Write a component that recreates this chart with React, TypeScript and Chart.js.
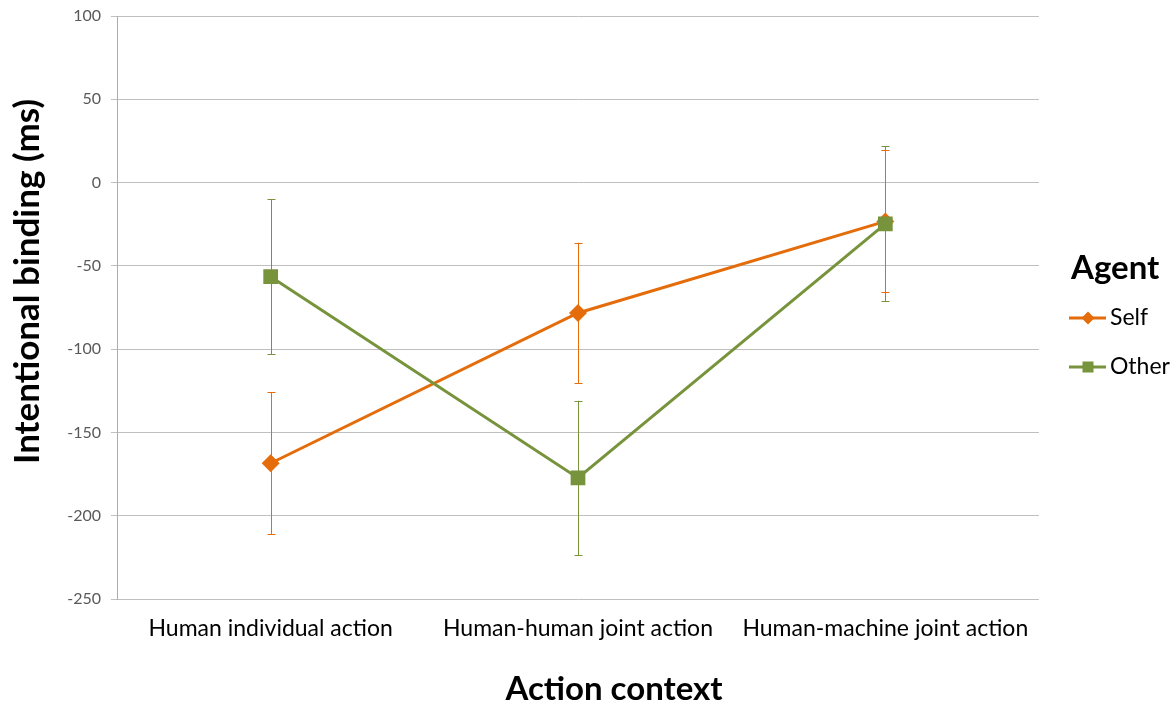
import { useEffect, useRef } from "react";
import { Chart, registerables } from "chart.js";

Chart.register(...registerables);

const categories = ["Human individual action", "Human-human joint action", "Human-machine joint action"];
const seriesNames = ["Self", "Other"];
const selfMeans = [-168.5, -78.3, -23.3];
const selfErrors = [42.5, 42.2, 42.6];
const otherMeans = [-56.5, -177.3, -24.8];
const otherErrors = [46.5, 46.3, 46.5];
const yMin = -250;
const yMax = 100;
const yStep = 50;

const xTitle = "Action context";
const yTitle = "Intentional binding (ms)";
const legendTitle = "Agent";

const ORANGE = "#E46C0A";
const GREEN = "#77933C";
const FONT = "Lato, 'Open Sans', sans-serif";

const errorBarPlugin = {
  id: "errorBars",
  beforeDatasetsDraw(chart: any) {
    const { ctx } = chart;
    const x = chart.scales.x;
    const y = chart.scales.y;
    const sets = [
      { means: otherMeans, errs: otherErrors, color: GREEN },
      { means: selfMeans, errs: selfErrors, color: ORANGE },
    ];
    ctx.save();
    ctx.lineWidth = 1;
    sets.forEach((s) => {
      ctx.strokeStyle = s.color;
      s.means.forEach((m, i) => {
        const px = Math.round(x.getPixelForValue(i)) + 0.5;
        const top = y.getPixelForValue(m + s.errs[i]);
        const bot = y.getPixelForValue(m - s.errs[i]);
        ctx.beginPath();
        ctx.moveTo(px, top);
        ctx.lineTo(px, bot);
        ctx.moveTo(px - 4, Math.round(top) + 0.5);
        ctx.lineTo(px + 4, Math.round(top) + 0.5);
        ctx.moveTo(px - 4, Math.round(bot) + 0.5);
        ctx.lineTo(px + 4, Math.round(bot) + 0.5);
        ctx.stroke();
      });
    });
    ctx.restore();
  },
};

const titlesLegendPlugin = {
  id: "titlesLegend",
  afterDraw(chart: any) {
    const { ctx, chartArea } = chart;
    ctx.save();
    ctx.fillStyle = "#000";
    ctx.textBaseline = "middle";
    ctx.textAlign = "center";
    ctx.font = `bold 33px ${FONT}`;
    // x title
    ctx.fillText(xTitle, (chartArea.left + chartArea.right) / 2 + 36, chartArea.bottom + 90);
    // y title
    ctx.save();
    ctx.font = `bold 35px ${FONT}`;
    ctx.translate(28, (chartArea.top + chartArea.bottom) / 2 - 26);
    ctx.rotate(-Math.PI / 2);
    ctx.fillText(yTitle, 0, 0);
    ctx.restore();
    // legend
    const lx = chartArea.right + 30;
    ctx.textAlign = "left";
    ctx.fillText(legendTitle, lx + 2, 268);
    const items = [
      { name: seriesNames[0], color: ORANGE, style: "diamond", y: 318 },
      { name: seriesNames[1], color: GREEN, style: "square", y: 367 },
    ];
    items.forEach((it) => {
      ctx.strokeStyle = it.color;
      ctx.fillStyle = it.color;
      ctx.lineWidth = 3;
      ctx.beginPath();
      ctx.moveTo(lx, it.y);
      ctx.lineTo(lx + 37, it.y);
      ctx.stroke();
      const cx = lx + 19;
      ctx.beginPath();
      if (it.style === "diamond") {
        ctx.moveTo(cx, it.y - 6.5);
        ctx.lineTo(cx + 6.5, it.y);
        ctx.lineTo(cx, it.y + 6.5);
        ctx.lineTo(cx - 6.5, it.y);
        ctx.closePath();
      } else {
        ctx.rect(cx - 5.5, it.y - 5.5, 11, 11);
      }
      ctx.fill();
      ctx.fillStyle = "#000";
      ctx.font = `23px ${FONT}`;
      ctx.fillText(it.name, lx + 41, it.y);
    });
    ctx.restore();
  },
};

export default function App() {
  const ref = useRef<HTMLCanvasElement | null>(null);
  useEffect(() => {
    if (!ref.current) return;
    const chart = new Chart(ref.current, {
      type: "line",
      data: {
        labels: categories,
        datasets: [
          {
            label: seriesNames[0],
            data: selfMeans,
            borderColor: ORANGE,
            backgroundColor: ORANGE,
            borderWidth: 3,
            pointStyle: "rectRot",
            pointRadius: 9,
            pointHoverRadius: 9,
            pointBorderWidth: 0,
            order: 1,
            tension: 0,
          },
          {
            label: seriesNames[1],
            data: otherMeans,
            borderColor: GREEN,
            backgroundColor: GREEN,
            borderWidth: 3,
            pointStyle: "rect",
            pointRadius: 10.4,
            pointHoverRadius: 10.4,
            pointBorderWidth: 0,
            order: 0,
            tension: 0,
          },
        ],
      },
      options: {
        animation: false,
        responsive: true,
        maintainAspectRatio: false,
        layout: { padding: { left: 0, right: 136, top: 16, bottom: 0 } },
        plugins: {
          legend: { display: false },
          tooltip: { enabled: false },
        },
        scales: {
          x: {
            offset: true,
            grid: { display: false, drawTicks: false },
            border: { display: false },
            ticks: {
              color: "#000",
              font: { family: FONT, size: 23 },
              padding: 16,
              maxRotation: 0,
              autoSkip: false,
            },
            afterFit(scale: any) {
              scale.height = 106;
              scale.paddingLeft = 0;
              scale.paddingRight = 0;
            },
          },
          y: {
            min: yMin,
            max: yMax,
            ticks: {
              stepSize: yStep,
              color: "#595959",
              font: { family: FONT, size: 16 },
              padding: 10,
            },
            grid: { color: "#BFBFBF", lineWidth: 1, tickLength: 6 },
            border: { color: "#ADADAD" },
            afterFit(scale: any) {
              scale.width = 117;
              scale.paddingTop = 0;
              scale.paddingBottom = 0;
            },
          },
        },
      },
      plugins: [errorBarPlugin, titlesLegendPlugin],
    });
    return () => chart.destroy();
  }, []);
  return (
    <div style={{ position: "fixed", left: 0, top: 0, width: 1175, height: 705, background: "#fff" }}>
      <canvas ref={ref} />
    </div>
  );
}
